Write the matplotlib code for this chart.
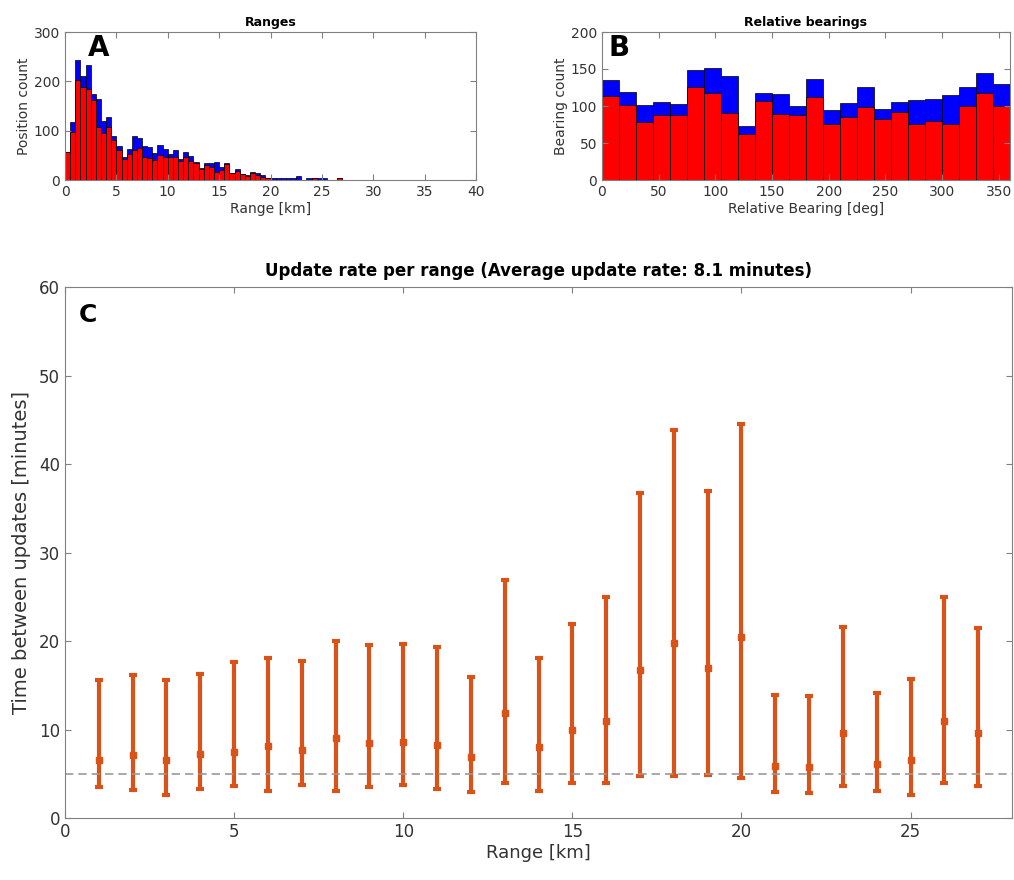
import numpy as np
import matplotlib
matplotlib.use("Agg")
import matplotlib.pyplot as plt

# ---- Panel A: range histogram (0.5 km bins) ----
range_edges = np.arange(0, 27.5, 0.5)
range_total = [57, 118, 243, 210, 233, 174, 165, 120, 127, 90,
               68, 46, 62, 90, 86, 68, 66, 54, 70, 63,
               53, 61, 43, 56, 49, 36, 24, 35, 34, 36,
               27, 34, 14, 22, 12, 10, 17, 14, 10, 5,
               5, 4, 4, 4, 4, 8, 0, 4, 4, 4,
               4, 0, 0, 4]
range_red = [57, 97, 203, 188, 185, 162, 108, 96, 107, 81,
             61, 42, 53, 61, 64, 47, 44, 41, 51, 47,
             46, 46, 39, 47, 39, 34, 22, 30, 27, 17,
             20, 32, 14, 19, 12, 8, 14, 10, 7, 5,
             0, 0, 0, 0, 1, 0, 0, 0, 4, 0,
             0, 0, 0, 4]

# ---- Panel B: relative bearing histogram (15 deg bins) ----
bearing_edges = np.arange(0, 375, 15)
bearing_total = [135, 119, 102, 106, 103, 149, 151, 140, 73, 118, 116, 100,
                 136, 94, 104, 126, 96, 106, 108, 109, 115, 125, 145, 130]
bearing_red = [114, 102, 79, 88, 88, 126, 118, 90, 62, 107, 89, 88,
               112, 75, 85, 99, 83, 92, 75, 80, 75, 100, 117, 100]

# ---- Panel C: update rate per range ----
ranges_km = list(range(1, 28))
rate_mean = [6.5, 7.1, 6.5, 7.2, 7.5, 8.1, 7.7, 9.0, 8.5, 8.6, 8.3, 6.9, 11.9, 8.0,
             9.9, 11.0, 16.7, 19.8, 16.9, 20.5, 5.9, 5.8, 9.6, 6.1, 6.6, 11.0, 9.6]
rate_low = [3.5, 3.2, 2.6, 3.3, 3.6, 3.1, 3.7, 3.0, 3.5, 3.7, 3.3, 2.9, 3.9, 3.1,
            3.9, 4.0, 4.7, 4.8, 4.9, 4.5, 2.9, 2.8, 3.6, 3.1, 2.6, 4.0, 3.6]
rate_high = [15.6, 16.2, 15.6, 16.3, 17.6, 18.1, 17.7, 20.0, 19.5, 19.7, 19.3, 15.9, 26.9, 18.1,
             21.9, 25.0, 36.7, 43.8, 36.9, 44.5, 13.9, 13.8, 21.6, 14.1, 15.7, 25.0, 21.5]
target_rate = 5

W, H = 1014, 880
fig = plt.figure(figsize=(W / 100, H / 100), dpi=100)

def box(l, t, r, b):
    return [l / W, 1 - b / H, (r - l) / W, (b - t) / H]

def matlab_style(ax, size):
    for s in ax.spines.values():
        s.set_color("#808080")
        s.set_linewidth(0.8)
    ax.tick_params(direction="in", top=True, right=True, colors="#808080",
                   labelcolor="#333333", labelsize=size, length=4)

axA = fig.add_axes(box(65, 32, 476, 180))
axA.bar(range_edges[:-1], range_total, width=0.5, align="edge", color="#0000ff",
        edgecolor="black", linewidth=0.5)
axA.bar(range_edges[:-1], range_red, width=0.5, align="edge", color="#ff0000",
        edgecolor="black", linewidth=0.5)
axA.set_xlim(0, 40)
axA.set_ylim(0, 300)
axA.set_yticks([0, 100, 200, 300])
axA.set_xlabel("Range [km]", fontsize=10, color="#333333", labelpad=2)
axA.set_ylabel("Position count", fontsize=10, color="#333333", labelpad=2)
axA.set_title("Ranges", fontsize=9, fontweight="bold", pad=4)
matlab_style(axA, 10)
axA.text(0.055, 0.985, "A", transform=axA.transAxes, fontsize=20, fontweight="bold",
         va="top", ha="left")

axB = fig.add_axes(box(602, 32, 1010, 180))
axB.bar(bearing_edges[:-1], bearing_total, width=15, align="edge", color="#0000ff",
        edgecolor="black", linewidth=0.5)
axB.bar(bearing_edges[:-1], bearing_red, width=15, align="edge", color="#ff0000",
        edgecolor="black", linewidth=0.5)
axB.set_xlim(0, 360)
axB.set_ylim(0, 200)
axB.set_yticks([0, 50, 100, 150, 200])
axB.set_xlabel("Relative Bearing [deg]", fontsize=10, color="#333333", labelpad=2)
axB.set_ylabel("Bearing count", fontsize=10, color="#333333", labelpad=2)
axB.set_title("Relative bearings", fontsize=9, fontweight="bold", pad=4)
matlab_style(axB, 10)
axB.text(0.015, 0.985, "B", transform=axB.transAxes, fontsize=20, fontweight="bold",
         va="top", ha="left")

axC = fig.add_axes(box(65, 287, 1012, 818))
mean = np.array(rate_mean)
err = [mean - np.array(rate_low), np.array(rate_high) - mean]
axC.errorbar(ranges_km, mean, yerr=err, fmt="s", color="#D95319", ecolor="#D95319",
             markersize=4, elinewidth=3, capsize=3, capthick=3)
axC.axhline(target_rate, color="#999999", linestyle="--", linewidth=1.2, dashes=(5, 3))
axC.set_xlim(0, 28)
axC.set_ylim(0, 60)
axC.set_xticks([0, 5, 10, 15, 20, 25])
axC.set_xlabel("Range [km]", fontsize=13, color="#333333", labelpad=2)
axC.set_ylabel("Time between updates [minutes]", fontsize=14, color="#333333", labelpad=6)
axC.set_title("Update rate per range (Average update rate: 8.1 minutes)",
              fontsize=12, fontweight="bold", pad=8)
matlab_style(axC, 12)
axC.text(0.015, 0.97, "C", transform=axC.transAxes, fontsize=18, fontweight="bold",
         va="top", ha="left")

fig.savefig("out.png", dpi=100)
